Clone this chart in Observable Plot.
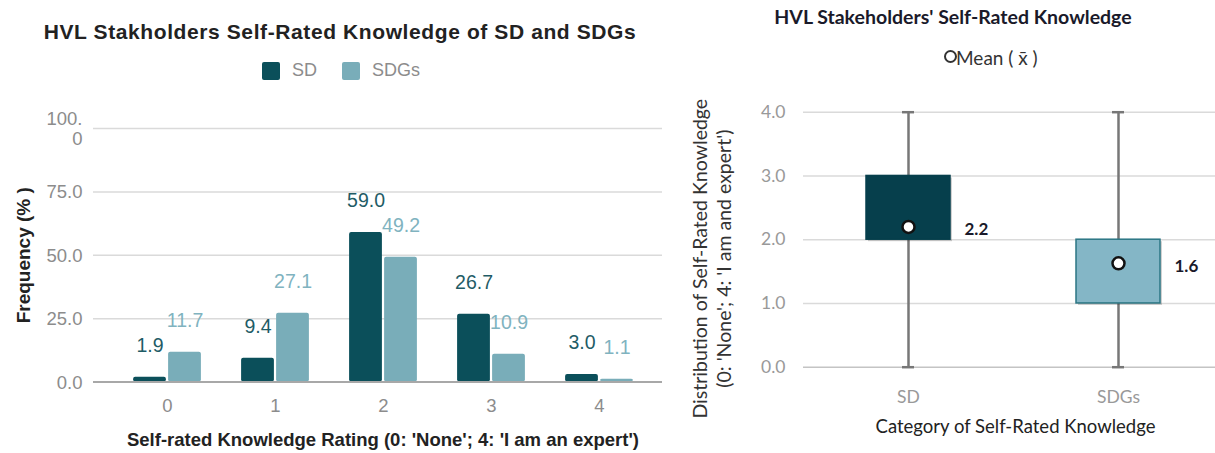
<!DOCTYPE html>
<html><head><meta charset="utf-8">
<script src="https://cdn.jsdelivr.net/npm/d3@7"></script>
<script src="https://cdn.jsdelivr.net/npm/@observablehq/plot@0.6"></script>
<style>
html,body{margin:0;padding:0;background:#fff;}
body{width:1215px;height:453px;position:relative;overflow:hidden;}
.abs{position:absolute;white-space:nowrap;}
#left,#right{position:absolute;top:0;}
#left{left:0;} #right{left:665px;}
.sw{position:absolute;width:18px;height:18px;border-radius:2px;}
</style></head><body>
<div id="left"></div><div id="right"></div>
<div class="abs" style="left:0;width:680px;text-align:center;top:20px;font:bold 21px 'Liberation Sans',Arial,sans-serif;letter-spacing:0.6px;color:#222">HVL Stakholders Self-Rated Knowledge of SD and SDGs</div>
<div class="sw" style="left:262px;top:62px;background:#0b4f5a"></div>
<div class="abs" style="left:292px;top:60px;font:18px 'Liberation Sans',Arial,sans-serif;color:#8c8c8c">SD</div>
<div class="sw" style="left:342px;top:62px;background:#79adb9"></div>
<div class="abs" style="left:372px;top:60px;font:18px 'Liberation Sans',Arial,sans-serif;color:#8c8c8c">SDGs</div>
<div class="abs" style="left:753px;width:400px;text-align:center;top:5px;font:bold 19.5px Lato,sans-serif;color:#1a1a2a">HVL Stakeholders' Self-Rated Knowledge</div>
<div class="abs" style="left:944px;top:50px;width:9px;height:9px;border:2px solid #333;border-radius:50%;"></div>
<div class="abs" style="left:956px;top:46px;font:19px Lato,sans-serif;color:#333">Mean ( x̄ )</div>
<script>
// ---- Left chart data ----
const ratings = ["0", "1", "2", "3", "4"];
const seriesNames = ["SD", "SDGs"];
const sdValues = [1.9, 9.4, 59.0, 26.7, 3.0];
const sdgValues = [11.7, 27.1, 49.2, 10.9, 1.1];
const freqTicks = [0, 25, 50, 75, 100];
const barColors = ["#0b4f5a", "#79adb9"];
const labelColors = ["#1f5c66", "#80b3bf"];

// ---- Right chart data ----
const categories = ["SD", "SDGs"];
const whiskerMin = [0, 0];
const q1Values = [2, 1];
const q3Values = [3, 2];
const whiskerMax = [4, 4];
const meanValues = [2.2, 1.63];
const boxTicks = [0, 1, 2, 3, 4];
const boxFill = ["#063f4c", "#84b6c6"];
const boxStroke = ["#063f4c", "#2b7684"];

const sdData = ratings.map((r, i) => ({rating: r, value: sdValues[i]}));
const sdgData = ratings.map((r, i) => ({rating: r, value: sdgValues[i]}));

const leftFont = "'Liberation Sans', Arial, sans-serif";
const left = Plot.plot({
  width: 665, height: 453,
  marginTop: 128, marginBottom: 71.5, marginLeft: 93, marginRight: 3,
  x: {type: "band", domain: ratings, range: [112, 653], padding: 0, axis: null},
  y: {domain: [0, 100], axis: null},
  style: {background: "transparent", overflow: "visible", fontFamily: leftFont, fontSize: "18.5px"},
  marks: [
    Plot.ruleY(freqTicks.slice(1), {stroke: "#dadada", strokeWidth: 1.5}),
    Plot.barY(sdData, {x: "rating", y: "value", fill: barColors[0], insetLeft: 20.1, insetRight: 55.1, rx: 2}),
    Plot.barY(sdgData, {x: "rating", y: "value", fill: barColors[1], insetLeft: 55.1, insetRight: 20.1, rx: 2}),
    Plot.ruleY([0], {stroke: "#a8a8a8", strokeWidth: 2}),
    Plot.text(sdData, {x: "rating", y: "value", text: d => d.value.toFixed(1), dx: -17.5, dy: -31.5, fill: labelColors[0], fontSize: 19.5}),
    Plot.text(sdgData, {x: "rating", y: "value", text: d => d.value.toFixed(1), dx: 17.5, dy: -31.5, fill: labelColors[1], fontSize: 19.5}),
    Plot.axisY(freqTicks, {tickSize: 0, tickPadding: 11, tickFormat: d => d === 100 ? "100.\n0" : d.toFixed(1), color: "#8c8c8c", lineHeight: 1.1, label: null}),
    Plot.axisX({tickSize: 0, tickPadding: 17, color: "#8c8c8c", label: null}),
    Plot.text(["Frequency (% )"], {frameAnchor: "left", dx: -70, rotate: -90, textAnchor: "middle", lineAnchor: "middle", fontWeight: "bold", fontSize: 19, fill: "#222"}),
    Plot.text(["Self-rated Knowledge Rating (0: 'None'; 4: 'I am an expert')"], {frameAnchor: "bottom", dy: 58, dx: 5, textAnchor: "middle", lineAnchor: "middle", fontWeight: "bold", fontSize: 18.5, fill: "#222"})
  ]
});
document.getElementById("left").appendChild(left);

const boxData = categories.map((c, i) => ({cat: c, min: whiskerMin[i], q1: q1Values[i], q3: q3Values[i], max: whiskerMax[i], mean: meanValues[i], fill: boxFill[i], stroke: boxStroke[i]}));

const right = Plot.plot({
  width: 550, height: 453,
  marginTop: 111.7, marginBottom: 86.3, marginLeft: 138, marginRight: 0,
  x: {type: "band", domain: categories, range: [138, 558], padding: 0, axis: null},
  y: {domain: [0, 4], axis: null},
  style: {background: "transparent", overflow: "visible", fontFamily: "Lato, sans-serif", fontSize: "17.5px"},
  marks: [
    Plot.ruleY(boxTicks.slice(1), {stroke: "#dadada", strokeWidth: 1.5}),
    Plot.ruleY([0], {stroke: "#c4c4c4", strokeWidth: 1.5}),
    Plot.ruleX(boxData, {x: "cat", y1: "min", y2: "max", stroke: "#777", strokeWidth: 2.5}),
    Plot.tickY(boxData, {x: "cat", y: "min", stroke: "#777", strokeWidth: 2.5, insetLeft: 99, insetRight: 99}),
    Plot.tickY(boxData, {x: "cat", y: "max", stroke: "#777", strokeWidth: 2.5, insetLeft: 99, insetRight: 99}),
    Plot.barY(boxData, {x: "cat", y1: "q1", y2: "q3", fill: "#000", fillOpacity: 0.18, insetLeft: 63, insetRight: 63, dx: 2, dy: 2}),
    Plot.barY(boxData, {x: "cat", y1: "q1", y2: "q3", fill: "fill", stroke: "stroke", strokeWidth: 1.5, insetLeft: 63, insetRight: 63}),
    Plot.dot(boxData, {x: "cat", y: "mean", r: 6, fill: "white", stroke: "#111", strokeWidth: 2.5}),
    Plot.text(boxData, {x: "cat", y: "mean", text: d => d.mean.toFixed(1), dx: 56, dy: 3, textAnchor: "start", fontWeight: "bold", fontSize: 17, fill: "#1a1a2a"}),
    Plot.axisY(boxTicks, {tickSize: 0, tickPadding: 18, tickFormat: d => d.toFixed(1), color: "#999", label: null}),
    Plot.axisX({tickSize: 0, tickPadding: 23, color: "#999", label: null}),
    Plot.text(["Distribution of Self-Rated Knowledge\n(0: 'None'; 4: 'I am and expert')"], {frameAnchor: "left", dx: -92.5, dy: 19, rotate: -90, textAnchor: "middle", lineAnchor: "middle", lineHeight: 1.25, fontSize: 19.5, fill: "#333"}),
    Plot.text(["Category of Self-Rated Knowledge"], {frameAnchor: "bottom", dy: 60, dx: 6, textAnchor: "middle", lineAnchor: "middle", fontSize: 18.5, fill: "#222"})
  ]
});
document.getElementById("right").appendChild(right);
</script>
</body></html>
